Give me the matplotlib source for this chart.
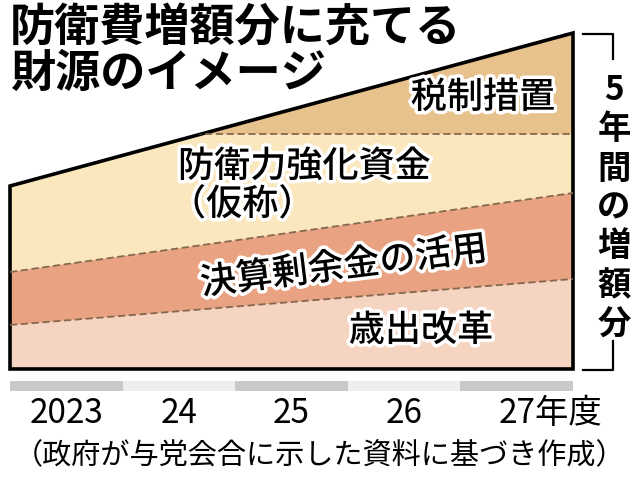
import matplotlib

matplotlib.use("Agg")
import matplotlib.pyplot as plt
import matplotlib.patheffects as pe
from matplotlib.lines import Line2D
from matplotlib.patches import Polygon

plt.rcParams["font.family"] = ["Noto Sans CJK JP", "DejaVu Sans"]

# image values (arbitrary units), left edge of FY2023 -> right edge of FY2027
edge_x = [2022.5, 2027.5]
total_top = [183, 336]        # overall increase (top line)
kessan_top = [97, 176]        # top of 決算剰余金の活用
saishutsu_top = [44, 90]      # top of 歳出改革
zeisei_floor = 235            # 税制措置 sits above this level

years = [2023, 2024, 2025, 2026, 2027]
year_labels = ["2023", "24", "25", "26", "27年度"]

band_labels = ["税制措置", "防衛力強化資金", "（仮称）", "決算剰余金の活用", "歳出改革"]

TAN = "#e8c28c"
CREAM = "#fbe7bd"
SALMON = "#e9a282"
PINK = "#f6d4c2"
DASH = "#85694f"

W, H = 640, 485
fig = plt.figure(figsize=(W / 100, H / 100), dpi=100)
fig.patch.set_facecolor("white")


def fx(px):
    return px / W


def fy(py):
    return 1 - py / H


ax = fig.add_axes([fx(10), fy(370), 563 / W, 336 / H])
ax.set_xlim(edge_x)
ax.set_ylim(0, total_top[1])
ax.axis("off")

outline = ax.fill_between(edge_x, 0, total_top, facecolor=TAN, linewidth=0)
clip_path = outline.get_paths()[0]

cream = ax.fill_between(edge_x, 0, [zeisei_floor] * 2, facecolor=CREAM, linewidth=0)
cream.set_clip_path(clip_path, ax.transData)
ax.fill_between(edge_x, 0, kessan_top, facecolor=SALMON, linewidth=0)
ax.fill_between(edge_x, 0, saishutsu_top, facecolor=PINK, linewidth=0)

dash_kw = dict(color=DASH, linewidth=1.3, dashes=(4, 2))
(zl,) = ax.plot(edge_x, [zeisei_floor] * 2, **dash_kw)
zl.set_clip_path(clip_path, ax.transData)
ax.plot(edge_x, kessan_top, **dash_kw)
ax.plot(edge_x, saishutsu_top, **dash_kw)

box = Polygon(
    [(edge_x[0], 0), (edge_x[0], total_top[0]), (edge_x[1], total_top[1]), (edge_x[1], 0)],
    closed=True, facecolor="none", edgecolor="black", linewidth=2.6,
    joinstyle="miter", clip_on=False,
)
ax.add_patch(box)

# year strip
bx = fig.add_axes([fx(10), fy(392), 563 / W, 10 / H])
bx.set_xlim(edge_x)
bx.set_ylim(0, 1)
bx.axis("off")
strip_colors = ["#c9c9c9", "#eeeeee"] * 3
bx.bar(years, [1] * len(years), width=1.0, color=strip_colors[: len(years)], linewidth=0)
for yr, lab in zip(years, year_labels):
    if lab.endswith("年度"):
        bx.text(yr - 0.16, -2.2, lab, ha="left", va="center", fontsize=24)
    else:
        bx.text(yr, -2.2, lab, ha="center", va="center", fontsize=24)

# labels inside the bands
halo = [pe.withStroke(linewidth=5, foreground="white")]
lab_kw = dict(fontsize=26, path_effects=halo, va="center", fontweight="medium")
fig.text(fx(483), fy(99), band_labels[0], ha="center", **lab_kw)
fig.text(fx(178), fy(168), band_labels[1], ha="left", **lab_kw)
fig.text(fx(170), fy(206), band_labels[2], ha="left", **lab_kw)
fig.text(fx(344), fy(268), band_labels[3], ha="center", rotation=7,
         rotation_mode="anchor", **lab_kw)
fig.text(fx(421), fy(332), band_labels[4], ha="center", **lab_kw)

# title
fig.text(fx(10), fy(29), "防衛費増額分に充てる", ha="left", va="center",
         fontsize=32.5, fontweight="bold")
fig.text(fx(10), fy(74), "財源のイメージ", ha="left", va="center",
         fontsize=32.5, fontweight="bold")

# vertical bracket note
for i, ch in enumerate("5年間の増額分"):
    fig.text(fx(614), fy(91 + 39 * i), ch, ha="center", va="center",
             fontsize=24, fontweight="bold")
br_kw = dict(color="black", linewidth=1.6, transform=fig.transFigure)
fig.add_artist(Line2D([fx(583), fx(613), fx(613)], [fy(35), fy(35), fy(60)], **br_kw))
fig.add_artist(Line2D([fx(613), fx(613), fx(583)], [fy(342), fy(371), fy(371)], **br_kw))

# source
fig.text(fx(320), fy(456), "（政府が与党会合に示した資料に基づき作成）",
         ha="center", va="center", fontsize=21)

fig.savefig("out.png", dpi=100)
